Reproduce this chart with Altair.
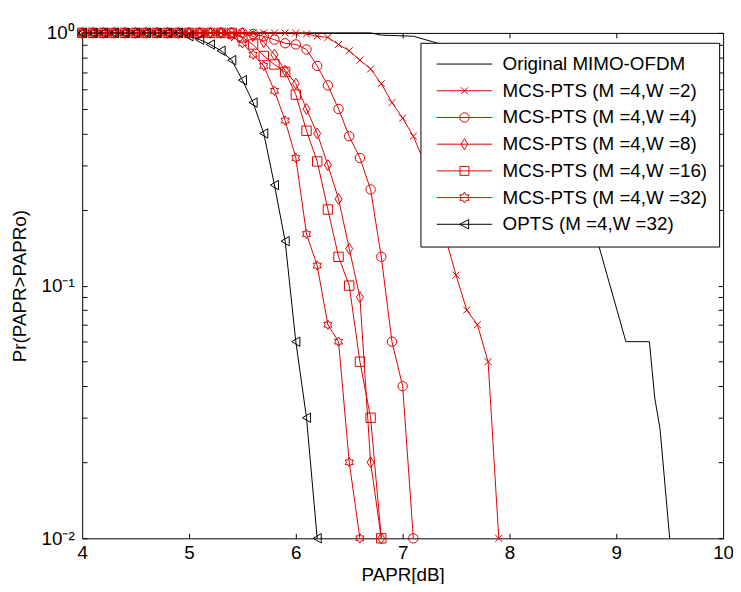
import altair as alt
import pandas as pd

SERIES = [
    "Original MIMO-OFDM",
    "MCS-PTS (M =4,W =2)",
    "MCS-PTS (M =4,W =4)",
    "MCS-PTS (M =4,W =8)",
    "MCS-PTS (M =4,W =16)",
    "MCS-PTS (M =4,W =32)",
    "OPTS (M =4,W =32)",
]
MARKED = SERIES[1:]

X_GRID = [4.0, 4.1, 4.2, 4.3, 4.4, 4.5, 4.6, 4.7, 4.8, 4.9,
          5.0, 5.1, 5.2, 5.3, 5.4, 5.5, 5.6, 5.7, 5.8, 5.9,
          6.0, 6.1, 6.2, 6.3, 6.4, 6.5, 6.6, 6.7, 6.8, 6.9,
          7.0, 7.1, 7.2, 7.3, 7.4, 7.5, 7.6, 7.7, 7.8, 7.9]

ORIG_X = [4.0, 6.7, 6.8, 7.1, 7.37, 7.6, 7.8, 8.0, 8.2, 8.4, 8.6, 8.83, 9.09, 9.31, 9.36, 9.41, 9.5]
ORIG_Y = [1.0, 1.0, 0.98, 0.97, 0.90, 0.80, 0.68, 0.55, 0.42, 0.31, 0.22, 0.147, 0.06, 0.06, 0.036, 0.027, 0.01]

W2 = [1, 1, 1, 1, 1, 1, 1, 1, 1, 1,
      1, 1, 1, 1, 1, 1, 1, 1, 1, 1,
      1, 0.99, 0.97, 0.96, 0.90, 0.85, 0.78, 0.72, 0.63, 0.53,
      0.46, 0.39, 0.31, 0.23, 0.155, 0.11, 0.08, 0.07, 0.05, 0.01]
W4 = [1, 1, 1, 1, 1, 1, 1, 1, 1, 1,
      1, 1, 1, 1, 1, 1, 0.99, 0.97, 0.94, 0.91,
      0.90, 0.86, 0.74, 0.62, 0.50, 0.39, 0.32, 0.24, 0.13, 0.06,
      0.04, 0.01]
W8 = [1, 1, 1, 1, 1, 1, 1, 1, 1, 1,
      1, 1, 1, 1, 1, 1, 0.97, 0.92, 0.82, 0.71,
      0.63, 0.50, 0.40, 0.30, 0.22, 0.14, 0.09, 0.02, 0.01]
W16 = [1, 1, 1, 1, 1, 1, 1, 1, 1, 1,
       1, 1, 1, 1, 1, 0.96, 0.90, 0.81, 0.75, 0.70,
       0.57, 0.41, 0.31, 0.20, 0.13, 0.10, 0.05, 0.03, 0.01]
W32 = [1, 1, 1, 1, 1, 1, 1, 1, 1, 1,
       1, 1, 1, 1, 0.97, 0.91, 0.82, 0.74, 0.59, 0.45,
       0.32, 0.16, 0.12, 0.07, 0.06, 0.02, 0.01]
OPTS = [1, 1, 1, 1, 1, 1, 1, 1, 1, 1,
        0.97, 0.94, 0.90, 0.85, 0.78, 0.65, 0.53, 0.40, 0.25, 0.15,
        0.06, 0.03, 0.01]

X_TICKS = [4, 5, 6, 7, 8, 9, 10]
INNER_X_TICKS = [5, 6, 7, 8, 9]
Y_MAJOR = [0.01, 0.1, 1]
Y_MINOR = [0.01, 0.02, 0.03, 0.04, 0.05, 0.06, 0.07, 0.08, 0.09,
           0.1, 0.2, 0.3, 0.4, 0.5, 0.6, 0.7, 0.8, 0.9, 1]

RED = "#dd0000"
COLORS = ["black", RED, RED, RED, RED, RED, "black"]

HEX_PTS = [(0, -1), (0.2887, -0.5), (0.866, -0.5), (0.5774, 0), (0.866, 0.5),
           (0.2887, 0.5), (0, 1), (-0.2887, 0.5), (-0.866, 0.5), (-0.5774, 0),
           (-0.866, -0.5), (-0.2887, -0.5)]


def hexagram(s):
    return "M" + "L".join("%.3f,%.3f" % (a * s, b * s) for a, b in HEX_PTS) + "Z"


PLOT_SHAPES = [
    "M-0.75,-0.75L0.75,0.75M-0.75,0.75L0.75,-0.75",
    "circle",
    "M0,-1.15L0.75,0L0,1.15L-0.75,0Z",
    "square",
    hexagram(1.0),
    "triangle-left",
]

# legend symbols: size 100 -> 1 unit = 5 px; line spans 56 px
LINE = "M-5.6,0L5.6,0"
LEGEND_SHAPES = [
    LINE,
    LINE + "M-0.7,-0.7L0.7,0.7M-0.7,0.7L0.7,-0.7",
    LINE + "M0.95,0A0.95,0.95,0,1,1,-0.95,0A0.95,0.95,0,1,1,0.95,0",
    LINE + "M0,-1.12L0.68,0L0,1.12L-0.68,0Z",
    LINE + "M-0.9,-0.9L0.9,-0.9L0.9,0.9L-0.9,0.9Z",
    LINE + hexagram(1.1),
    LINE + "M-0.95,0L0.85,-0.95L0.85,0.95Z",
]

rows = []
for x, y in zip(ORIG_X, ORIG_Y):
    rows.append({"series": SERIES[0], "x": x, "p": y, "order": x})
for name, vals in zip(MARKED, [W2, W4, W8, W16, W32, OPTS]):
    for x, y in zip(X_GRID, vals):
        rows.append({"series": name, "x": x, "p": y, "order": x})
df = pd.DataFrame(rows)

W, H = 648, 511
FONT = "Liberation Sans"
FS = 19

xscale = alt.Scale(domain=[4, 10], nice=False, zero=False)
yscale = alt.Scale(type="log", domain=[0.01, 1], nice=False)

color_all = alt.Scale(domain=SERIES, range=COLORS)

lines = alt.Chart(df).mark_line(strokeWidth=1).encode(
    x=alt.X("x:Q", scale=xscale,
            axis=alt.Axis(values=X_TICKS, title="PAPR[dB]", ticks=False, tickSize=0,
                          domain=False, grid=False, labelFontSize=FS, titleFontSize=FS,
                          labelPadding=5, titlePadding=4, labelColor="black",
                          titleColor="black", titleFontWeight="normal", labelFlush=False)),
    y=alt.Y("p:Q", scale=yscale,
            axis=alt.Axis(values=Y_MAJOR, title="Pr(PAPR>PAPRo)", ticks=False, tickSize=0,
                          domain=False, grid=False, labelFontSize=FS, titleFontSize=FS,
                          labelPadding=8, titlePadding=12, labelColor="black",
                          titleColor="black", titleFontWeight="normal",
                          labelExpr="datum.value >= 0.99 ? '10⁰' : (datum.value >= 0.099 ? '10⁻¹' : '10⁻²')")),
    color=alt.Color("series:N", scale=color_all, legend=None),
    detail="series:N",
    order="order:Q",
)

points = alt.Chart(df).transform_filter(
    alt.FieldOneOfPredicate(field="series", oneOf=MARKED)
).mark_point(filled=False, size=90, strokeWidth=1, opacity=1).encode(
    x=alt.X("x:Q", scale=xscale,
            axis=alt.Axis(orient="top", offset=-H, values=INNER_X_TICKS, labels=False,
                          title=None, ticks=True, tickSize=5, tickColor="black",
                          domain=False, grid=False)),
    y=alt.Y("p:Q", scale=yscale,
            axis=alt.Axis(orient="right", offset=-W, values=Y_MINOR, labels=False,
                          title=None, ticks=True, tickSize=5, tickColor="black",
                          domain=False, grid=False)),
    color=alt.Color("series:N", scale=alt.Scale(domain=MARKED, range=COLORS[1:]), legend=None),
    shape=alt.Shape("series:N", scale=alt.Scale(domain=MARKED, range=PLOT_SHAPES), legend=None),
)

leg = dict(title=None, orient="none", legendX=342, legendY=10, fillColor="white",
           strokeColor="black", padding=12, symbolSize=100, symbolStrokeWidth=1,
           symbolOffset=23, labelOffset=29,
           labelFontSize=FS, labelFont=FONT, labelColor="black", labelLimit=400,
           rowPadding=7, cornerRadius=0)

legend_layer = alt.Chart(df).transform_filter(alt.datum.p < 0).mark_point(
    filled=False, strokeWidth=1, opacity=1
).encode(
    x=alt.X("x:Q", scale=xscale,
            axis=alt.Axis(orient="bottom", offset=-H, values=INNER_X_TICKS, labels=False,
                          title=None, ticks=True, tickSize=5, tickColor="black",
                          domain=False, grid=False)),
    y=alt.Y("p:Q", scale=yscale,
            axis=alt.Axis(orient="left", offset=-W, values=Y_MINOR, labels=False,
                          title=None, ticks=True, tickSize=5, tickColor="black",
                          domain=False, grid=False)),
    color=alt.Color("series:N", scale=alt.Scale(domain=SERIES, range=COLORS),
                    legend=alt.Legend(**leg)),
    shape=alt.Shape("series:N", scale=alt.Scale(domain=SERIES, range=LEGEND_SHAPES),
                    legend=alt.Legend(**leg)),
)

chart = alt.layer(lines, points, legend_layer).resolve_scale(
    color="independent", shape="independent"
).resolve_axis(
    x="independent", y="independent"
).properties(
    width=W, height=H,
    autosize=alt.AutoSizeParams(type="none"),
    padding={"left": 75, "top": 22, "right": 10, "bottom": 43},
).configure(
    font=FONT,
).configure_view(
    stroke="black", strokeWidth=1,
)

chart.save("out.html", embed_options={"renderer": "svg", "actions": False})
